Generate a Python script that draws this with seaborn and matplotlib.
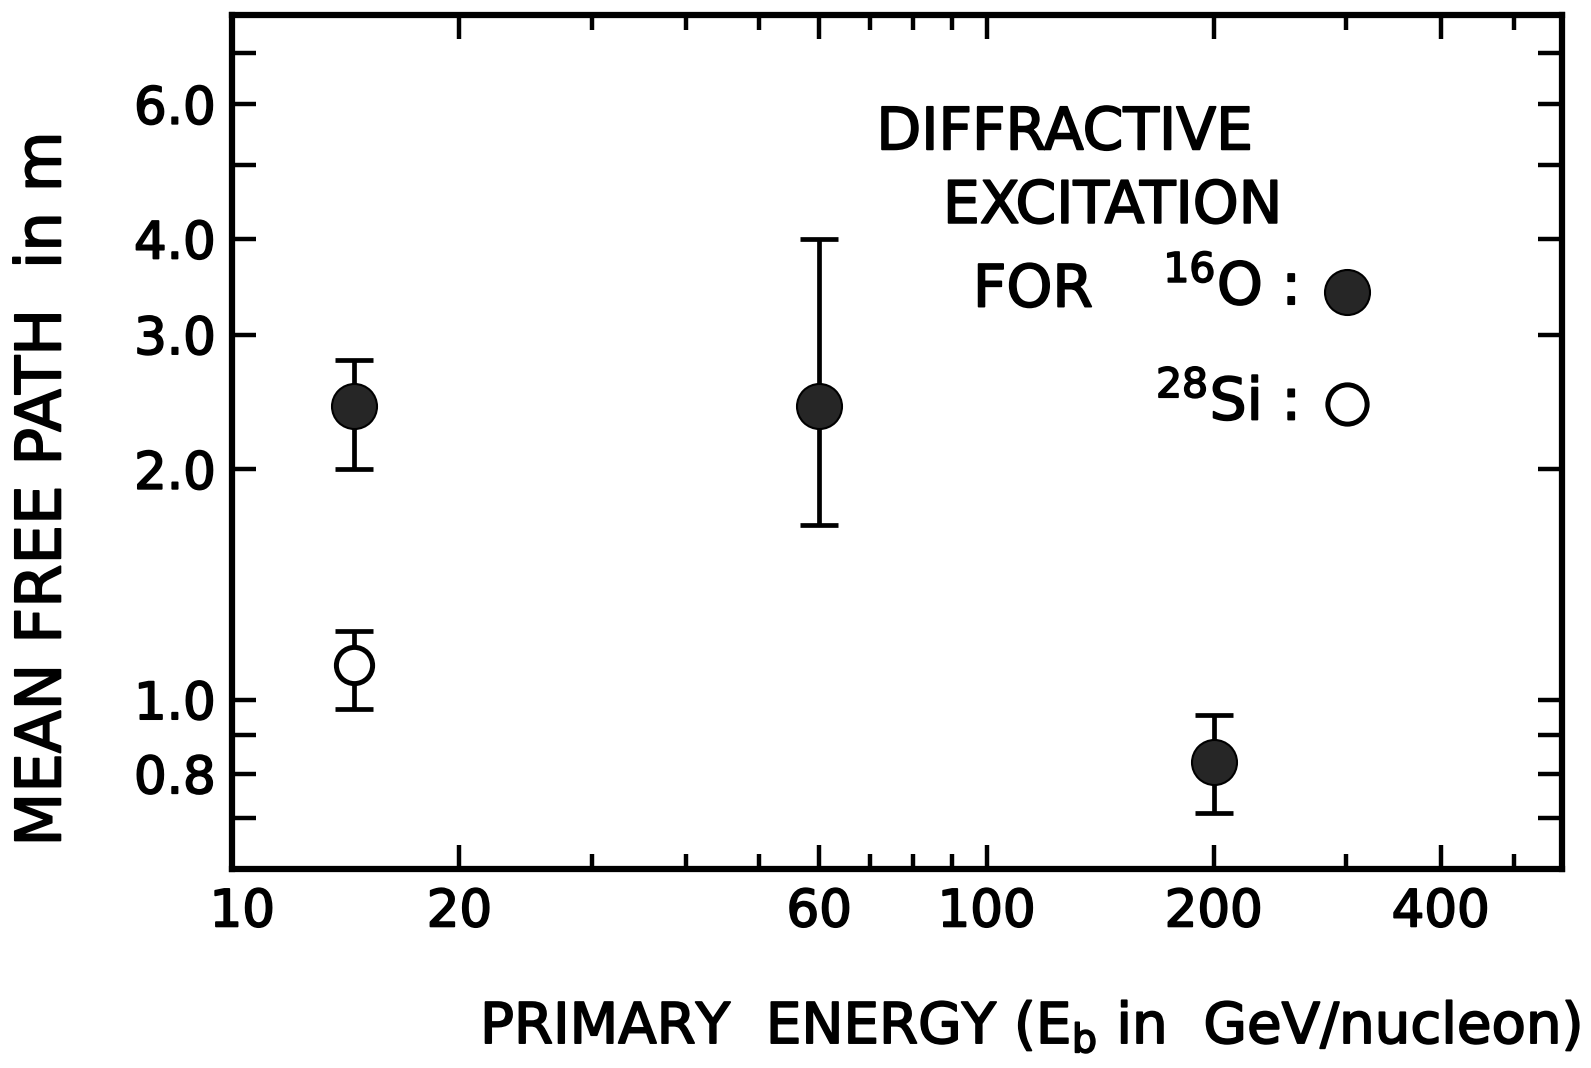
import numpy as np
import pandas as pd
import seaborn as sns
import matplotlib
matplotlib.use("Agg")
import matplotlib.pyplot as plt
import matplotlib.patheffects as pe
import matplotlib.transforms as mtransforms
from matplotlib.ticker import FixedLocator, FixedFormatter, NullFormatter

# ---- data ----
energy_o = [14.5, 60.0, 200.0]          # GeV/nucleon, 16O
mfp_o = [2.42, 2.42, 0.83]              # m
err_lo_o = [2.00, 1.69, 0.71]
err_hi_o = [2.78, 4.00, 0.955]

energy_si = [14.5]                      # 28Si
mfp_si = [1.11]
err_lo_si = [0.972]
err_hi_si = [1.23]

xticks_major = [10, 20, 60, 100, 200, 400]
xtick_labels = ["10", "20", "60", "100", "200", "400"]
xticks_minor = [30, 40, 50, 70, 80, 90, 300, 500]
yticks_major = [0.8, 1.0, 2.0, 3.0, 4.0, 6.0]
ytick_labels = ["0.8", "1.0", "2.0", "3.0", "4.0", "6.0"]
yticks_minor = [0.7, 0.9, 5.0, 7.0]

sns.set_theme(style="white")
plt.rcParams['font.family'] = ['DejaVu Sans']
plt.rcParams['mathtext.default'] = 'regular'

thick = [pe.withStroke(linewidth=1.3, foreground='black')]

fig = plt.figure(figsize=(15.91, 10.68), dpi=100)
ax = fig.add_axes([0.146, 0.186, 0.836, 0.800])

df_o = pd.DataFrame({"E": energy_o, "L": mfp_o})
df_si = pd.DataFrame({"E": energy_si, "L": mfp_si})

lw = 3.4
# error bars
ax.errorbar(energy_o, mfp_o,
            yerr=[np.array(mfp_o) - np.array(err_lo_o), np.array(err_hi_o) - np.array(mfp_o)],
            fmt='none', ecolor='black', elinewidth=lw, capsize=14, capthick=lw, zorder=2)
ax.errorbar(energy_si, mfp_si,
            yerr=[np.array(mfp_si) - np.array(err_lo_si), np.array(err_hi_si) - np.array(mfp_si)],
            fmt='none', ecolor='black', elinewidth=lw, capsize=14, capthick=lw, zorder=2)

sns.scatterplot(data=df_o, x="E", y="L", ax=ax, s=1050, color="#262626",
                edgecolor="black", linewidth=1.5, zorder=3, legend=False)
sns.scatterplot(data=df_si, x="E", y="L", ax=ax, s=680, facecolor="white",
                edgecolor="black", linewidth=3.6, zorder=3, legend=False)

ax.set_xscale('log')
ax.set_yscale('log')
ax.set_xlim(10, 580)
ax.set_ylim(0.6, 7.85)

ax.xaxis.set_major_locator(FixedLocator(xticks_major))
ax.xaxis.set_major_formatter(FixedFormatter(xtick_labels))
ax.xaxis.set_minor_locator(FixedLocator(xticks_minor))
ax.xaxis.set_minor_formatter(NullFormatter())
ax.yaxis.set_major_locator(FixedLocator(yticks_major))
ax.yaxis.set_major_formatter(FixedFormatter(ytick_labels))
ax.yaxis.set_minor_locator(FixedLocator(yticks_minor))
ax.yaxis.set_minor_formatter(NullFormatter())

ax.tick_params(which='both', direction='in', top=True, right=True, bottom=True, left=True,
               width=3.2, color='black', labelsize=37, labelcolor='black')
ax.tick_params(axis='x', which='major', length=17, pad=13)
ax.tick_params(axis='x', which='minor', length=11)
ax.tick_params(axis='y', which='both', length=17, pad=12)
for lab in ax.get_xticklabels() + ax.get_yticklabels():
    lab.set_path_effects(thick)
# the "10" label sits a little right of its tick in the original
first = ax.get_xticklabels()[0]
first.set_transform(first.get_transform() +
                    mtransforms.ScaledTranslation(0.10, 0, fig.dpi_scale_trans))

for s in ax.spines.values():
    s.set_linewidth(4.5)
    s.set_color('black')

ax.set_xlabel(r"PRIMARY  ENERGY (E$_\mathregular{b}$ in  GeV/nucleon)", fontsize=40.5,
              color='black')
ax.set_ylabel("MEAN FREE PATH  in m", fontsize=45, color='black')
ax.xaxis.set_label_coords(0.60, -0.185)
ax.xaxis.label.set_va('center')
ax.xaxis.label.set_path_effects(thick)
ax.yaxis.set_label_coords(-0.142, 0.445)
ax.yaxis.label.set_va('center')
ax.yaxis.label.set_path_effects(thick)

# in-plot annotation (legend)
tkw = dict(transform=ax.transAxes, fontsize=42, color='black', va='center',
           path_effects=thick)
ax.text(0.626, 0.862, "DIFFRACTIVE", ha='center', **tkw)
ax.text(0.662, 0.776, "EXCITATION", ha='center', **tkw)
ax.text(0.602, 0.678, "FOR", ha='center', **tkw)
ax.text(0.800, 0.681, r"$^\mathregular{16}$O :", ha='right', **tkw)
ax.text(0.800, 0.546, r"$^\mathregular{28}$Si :", ha='right', **tkw)
ax.scatter([0.838], [0.676], s=1050, color="#262626", edgecolor='black', linewidth=1.5,
           transform=ax.transAxes, clip_on=False, zorder=4)
ax.scatter([0.838], [0.545], s=800, facecolor='white', edgecolor='black', linewidth=3.6,
           transform=ax.transAxes, clip_on=False, zorder=4)

fig.savefig("out.png", dpi=100)
